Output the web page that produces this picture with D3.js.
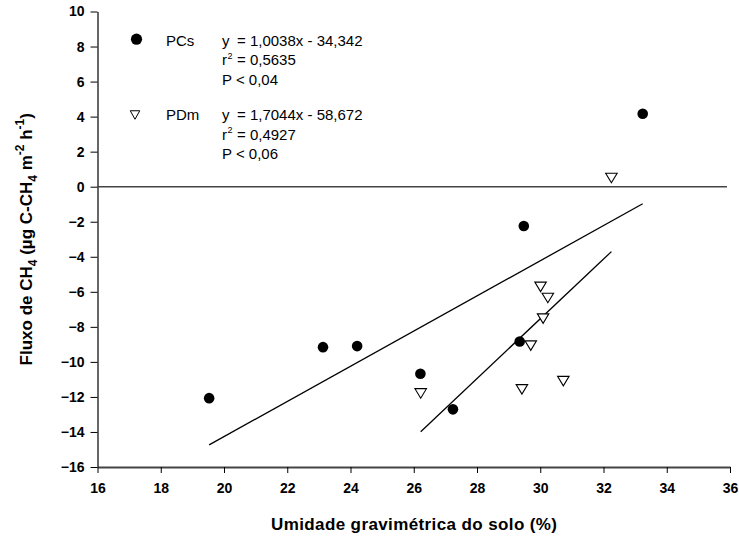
<!DOCTYPE html>
<html>
<head>
<meta charset="utf-8">
<script src="https://cdn.jsdelivr.net/npm/d3@7"></script>
<style>
  html, body { margin: 0; padding: 0; background: #fff; }
  svg { display: block; font-family: "Liberation Sans", Arial, sans-serif; }
</style>
</head>
<body>
<svg id="chart" width="739" height="536"></svg>
<script>
// ---- data ----
const pcsX = [19.53, 23.13, 24.21, 26.21, 27.24, 29.35, 29.48, 33.24];
const pcsY = [-12.07, -9.16, -9.10, -10.68, -12.71, -8.84, -2.24, 4.16];
const pdmX = [32.25, 30.01, 30.24, 30.09, 29.70, 26.22, 29.42, 30.73];
const pdmY = [0.50, -5.72, -6.35, -7.53, -9.07, -11.80, -11.57, -11.10];
const pcsFit = { slope: 1.0038, intercept: -34.342 };
const pdmFit = { slope: 1.7044, intercept: -58.672 };
const xTicks = [16, 18, 20, 22, 24, 26, 28, 30, 32, 34, 36];
const yTicks = [-16, -14, -12, -10, -8, -6, -4, -2, 0, 2, 4, 6, 8, 10];
const legendPCs = ["PCs", "1,0038x - 34,342", "0,5635", "P < 0,04"];
const legendPDm = ["PDm", "1,7044x - 58,672", "0,4927", "P < 0,06"];

const svg = d3.select("#chart");
const x = d3.scaleLinear().domain([16, 36]).range([97.5, 730]);
const y = d3.scaleLinear().domain([-16, 10]).range([467, 11.5]);

// y axis
const yAxis = svg.append("g")
  .attr("transform", `translate(${x(16)},0)`)
  .call(d3.axisLeft(y).tickValues(yTicks).tickSize(7).tickPadding(6).tickSizeOuter(0));
yAxis.select(".domain").attr("stroke", "#000").attr("stroke-width", 1.2);
yAxis.selectAll(".tick line").attr("stroke", "#000");
yAxis.selectAll("text").attr("font-size", 14).attr("font-weight", "bold").attr("fill", "#000")
  .attr("font-family", "Liberation Sans, Arial, sans-serif");

// x axis
const xAxis = svg.append("g")
  .attr("transform", `translate(0,${y(-16)})`)
  .call(d3.axisBottom(x).tickValues(xTicks).tickSize(6).tickPadding(10).tickSizeOuter(0));
xAxis.select(".domain").attr("stroke", "#444").attr("stroke-width", 2);
xAxis.selectAll(".tick line").attr("stroke", "#000");
xAxis.selectAll("text").attr("font-size", 14).attr("font-weight", "bold").attr("fill", "#000")
  .attr("font-family", "Liberation Sans, Arial, sans-serif");

// zero reference line
svg.append("line")
  .attr("x1", x(16)).attr("x2", x(36) - 3)
  .attr("y1", y(0)).attr("y2", y(0))
  .attr("stroke", "#444").attr("stroke-width", 1.4);

// regression lines
function fitLine(xs, fit) {
  const x0 = d3.min(xs), x1 = d3.max(xs);
  svg.append("line")
    .attr("x1", x(x0)).attr("y1", y(fit.slope * x0 + fit.intercept))
    .attr("x2", x(x1)).attr("y2", y(fit.slope * x1 + fit.intercept))
    .attr("stroke", "#000").attr("stroke-width", 1.3);
}
fitLine(pcsX, pcsFit);
fitLine(pdmX, pdmFit);

// points
const tri = (w, h) => `M${-w/2},${-h/2}L${w/2},${-h/2}L0,${h/2}Z`;
svg.append("g").selectAll("path")
  .data(d3.range(pdmX.length))
  .join("path")
  .attr("transform", i => `translate(${x(pdmX[i])},${y(pdmY[i])})`)
  .attr("d", tri(11.5, 9.5))
  .attr("fill", "#fff").attr("stroke", "#000").attr("stroke-width", 1.1);

svg.append("g").selectAll("circle")
  .data(d3.range(pcsX.length))
  .join("circle")
  .attr("cx", i => x(pcsX[i])).attr("cy", i => y(pcsY[i]))
  .attr("r", 5.3).attr("fill", "#000");

// legend
function legendBlock(top, entry, marker) {
  const g = svg.append("g").attr("font-size", 15).attr("fill", "#000");
  if (marker === "circle") {
    g.append("circle").attr("cx", 136.5).attr("cy", top - 6.5).attr("r", 5.6).attr("fill", "#000");
  } else {
    g.append("path").attr("transform", `translate(135,${top - 5})`).attr("d", tri(9.5, 8.5))
      .attr("fill", "#fff").attr("stroke", "#000").attr("stroke-width", 1);
  }
  g.append("text").attr("x", 166).attr("y", top).text(entry[0]);
  g.append("text").attr("x", 222).attr("y", top).text("y");
  g.append("text").attr("x", 237).attr("y", top).text("= " + entry[1]);
  g.append("text").attr("x", 222).attr("y", top + 19.5).text("r");
  g.append("text").attr("x", 227.5).attr("y", top + 13).attr("font-size", 9).text("2");
  g.append("text").attr("x", 237).attr("y", top + 19.5).text("= " + entry[2]);
  g.append("text").attr("x", 222).attr("y", top + 39).text(entry[3]);
}
legendBlock(45.7, legendPCs, "circle");
legendBlock(120, legendPDm, "triangle");

// axis titles
svg.append("text")
  .attr("x", 414).attr("y", 530)
  .attr("text-anchor", "middle").attr("font-size", 17).attr("font-weight", "bold")
  .attr("textLength", 286).attr("lengthAdjust", "spacing")
  .text("Umidade gravimétrica do solo (%)");

const yl = svg.append("text")
  .attr("transform", `translate(32,${(y(-16) + y(10)) / 2}) rotate(-90)`)
  .attr("text-anchor", "middle").attr("font-size", 17).attr("font-weight", "bold");
yl.append("tspan").text("Fluxo de CH");
yl.append("tspan").attr("font-size", 12).attr("dy", 5).text("4");
yl.append("tspan").attr("dy", -5).text(" (µg C-CH");
yl.append("tspan").attr("font-size", 12).attr("dy", 5).text("4");
yl.append("tspan").attr("dy", -5).text(" m");
yl.append("tspan").attr("font-size", 12).attr("dy", -8).text("-2");
yl.append("tspan").attr("dy", 8).text(" h");
yl.append("tspan").attr("font-size", 12).attr("dy", -8).text("-1");
yl.append("tspan").attr("dy", 8).text(")");
</script>
</body>
</html>
